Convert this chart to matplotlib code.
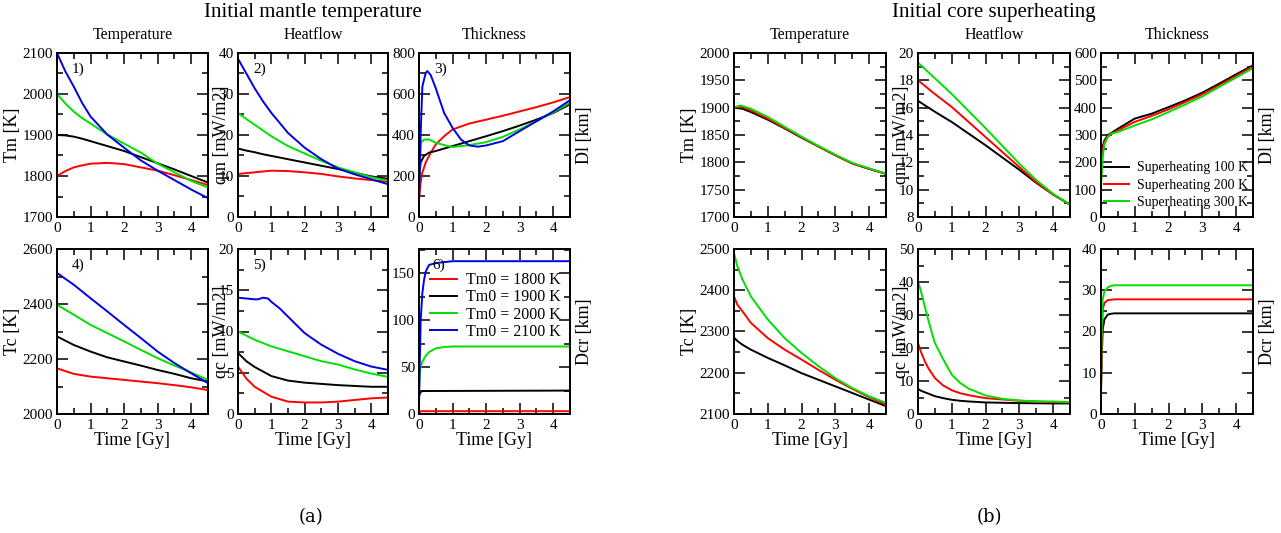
import matplotlib
matplotlib.use("Agg")
import matplotlib.pyplot as plt
from matplotlib.ticker import MultipleLocator

plt.rcParams['font.family'] = ['Liberation Serif', 'DejaVu Serif']

# ---------------- (a) Initial mantle temperature ----------------
a_labels = ["Tm0 = 1800 K", "Tm0 = 1900 K", "Tm0 = 2000 K", "Tm0 = 2100 K"]
a_colors = ["#ff0000", "#000000", "#00e000", "#0000e6"]

t_std = [0, 0.5, 1, 1.5, 2, 2.5, 3, 3.5, 4, 4.5]

# Panel 1: Tm [K]
a_tm_t = [0, 0.25, 0.5, 0.75, 1, 1.5, 2, 2.5, 3, 3.5, 4, 4.5]
a_tm = [
    [1800, 1812, 1821, 1826, 1830, 1832, 1829, 1821, 1813, 1802, 1790, 1778],
    [1900, 1899, 1896, 1891, 1885, 1873, 1861, 1846, 1831, 1816, 1800, 1784],
    [2000, 1977, 1957, 1941, 1928, 1901, 1879, 1857, 1830, 1809, 1788, 1772],
    [2100, 2055, 2018, 1978, 1945, 1901, 1869, 1838, 1813, 1790, 1767, 1746],
]
# Panel 2: qm [mW/m2]
a_qm_t = [0, 0.25, 0.5, 0.75, 1, 1.5, 2, 2.5, 3, 3.5, 4, 4.5]
a_qm = [
    [10.5, 10.7, 10.9, 11.1, 11.3, 11.2, 10.9, 10.5, 9.9, 9.4, 9.0, 8.6],
    [16.7, 16.2, 15.8, 15.3, 14.9, 14.1, 13.3, 12.5, 11.7, 10.8, 9.9, 9.3],
    [25.4, 23.9, 22.5, 21.1, 19.7, 17.3, 15.5, 13.7, 12.1, 10.9, 9.7, 8.9],
    [38.6, 35.0, 31.4, 28.2, 25.4, 20.5, 16.9, 14.1, 11.8, 10.4, 9.2, 8.0],
]
# Panel 3: Dl [km]
a_dl_t = [
    [0, 0.05, 0.1, 0.2, 0.35, 0.5, 0.75, 1, 1.5, 2, 2.5, 3, 3.5, 4, 4.5],
    [0, 0.05, 0.15, 0.3, 0.5, 0.75, 1, 1.5, 2, 2.5, 3, 3.5, 4, 4.5],
    [0, 0.05, 0.15, 0.3, 0.5, 0.75, 1, 1.25, 1.5, 2, 2.5, 3, 3.5, 4, 4.5],
    [0, 0.05, 0.1, 0.2, 0.25, 0.35, 0.5, 0.75, 1, 1.25, 1.5, 1.75, 2, 2.5, 3, 3.5, 4, 4.5],
]
a_dl = [
    [89, 169, 217, 266, 314, 354, 394, 427, 456, 475, 494, 515, 536, 559, 585],
    [185, 266, 298, 314, 322, 334, 346, 370, 394, 419, 446, 475, 507, 550],
    [150, 362, 378, 378, 362, 351, 341, 346, 351, 365, 391, 427, 467, 510, 558],
    [80, 410, 636, 703, 712, 692, 628, 507, 435, 378, 349, 343, 349, 370, 419, 467, 515, 570],
]
# Panel 4: Tc [K]
a_tc = [
    [2166, 2146, 2136, 2130, 2124, 2118, 2112, 2105, 2097, 2087],
    [2282, 2251, 2227, 2206, 2191, 2176, 2160, 2146, 2130, 2118],
    [2397, 2361, 2324, 2294, 2264, 2233, 2203, 2176, 2151, 2124],
    [2513, 2470, 2421, 2373, 2324, 2276, 2227, 2185, 2148, 2112],
]
# Panel 5: qc [mW/m2]
a_qc_t = [
    [0, 0.25, 0.5, 1, 1.5, 2, 2.5, 3, 3.5, 4, 4.5],
    [0, 0.25, 0.5, 1, 1.5, 2, 2.5, 3, 3.5, 4, 4.5],
    [0, 0.5, 1, 1.5, 2, 2.5, 3, 3.5, 4, 4.5],
    [0, 0.25, 0.5, 0.6, 0.75, 0.9, 1, 1.25, 1.5, 2, 2.5, 3, 3.5, 4, 4.5],
]
a_qc = [
    [5.75, 4.3, 3.3, 2.1, 1.5, 1.4, 1.4, 1.5, 1.7, 1.9, 2.0],
    [7.4, 6.4, 5.7, 4.6, 4.05, 3.8, 3.65, 3.5, 3.4, 3.3, 3.3],
    [10.0, 9.0, 8.2, 7.6, 7.0, 6.4, 6.0, 5.4, 4.9, 4.5],
    [14.1, 14.0, 13.9, 13.9, 14.1, 14.0, 13.6, 12.8, 11.8, 9.8, 8.4, 7.3, 6.4, 5.75, 5.35],
]
# Panel 6: Dcr [km]
a_dcr_t = [
    [0, 0.05, 4.5],
    [0, 0.03, 0.1, 4.5],
    [0, 0.02, 0.05, 0.1, 0.2, 0.3, 0.5, 0.75, 1, 4.5],
    [0, 0.02, 0.05, 0.1, 0.15, 0.2, 0.3, 0.5, 1, 4.5],
]
a_dcr = [
    [1, 3, 3],
    [18, 23, 24.5, 25],
    [29, 43, 50, 56, 62, 66, 70, 71.5, 72, 72],
    [7, 50, 100, 129, 143, 152, 159, 161, 163, 163],
]

# ---------------- (b) Initial core superheating ----------------
b_labels = ["Superheating 100 K", "Superheating 200 K", "Superheating 300 K"]
b_colors = ["#000000", "#ff0000", "#00e000"]

b_tm_t = [
    [0, 0.25, 0.5, 1, 1.5, 2, 2.5, 3, 3.5, 4, 4.5],
    [0, 0.25, 0.5, 1, 1.5, 2, 2.5, 3, 3.5, 4, 4.5],
    [0, 0.2, 0.5, 1, 1.5, 2, 2.5, 3, 3.5, 4, 4.5],
]
b_tm = [
    [1900, 1898, 1892, 1878, 1862, 1845, 1829, 1813, 1798, 1788, 1779],
    [1901, 1901, 1895, 1880, 1863, 1846, 1829, 1813, 1798, 1788, 1779],
    [1901, 1904, 1898, 1883, 1865, 1847, 1830, 1814, 1799, 1789, 1779],
]
b_qm = [
    [16.5, 15.7, 14.95, 14.1, 13.25, 12.35, 11.45, 10.5, 9.65, 8.9],
    [18.0, 17.0, 16.05, 14.95, 13.85, 12.75, 11.65, 10.55, 9.65, 8.9],
    [19.3, 18.15, 17.0, 15.75, 14.5, 13.2, 11.9, 10.7, 9.7, 8.9],
]
b_dl_t = [0, 0.05, 0.1, 0.2, 0.3, 0.5, 1, 1.5, 2, 2.5, 3, 3.5, 4, 4.5]
b_dl = [
    [159, 256, 280, 299, 307, 323, 360, 378, 402, 427, 455, 488, 522, 555],
    [130, 240, 275, 295, 303, 317, 348, 370, 394, 421, 449, 482, 516, 551],
    [110, 220, 265, 292, 305, 311, 335, 357, 384, 412, 441, 476, 510, 545],
]
b_tc_t = [0, 0.1, 0.25, 0.5, 1, 1.5, 2, 2.5, 3, 3.5, 4, 4.5]
b_tc = [
    [2285, 2277, 2268, 2256, 2236, 2218, 2199, 2183, 2167, 2151, 2135, 2119],
    [2385, 2365, 2349, 2321, 2284, 2256, 2232, 2207, 2183, 2161, 2141, 2123],
    [2490, 2458, 2426, 2385, 2329, 2284, 2248, 2216, 2187, 2163, 2143, 2127],
]
b_qc_t = [0, 0.1, 0.2, 0.3, 0.5, 0.75, 1, 1.25, 1.5, 2, 2.5, 3, 3.5, 4, 4.5]
b_qc = [
    [7.6, 7.0, 6.6, 6.2, 5.4, 4.8, 4.3, 4.0, 3.8, 3.5, 3.4, 3.3, 3.25, 3.2, 3.2],
    [21.5, 18.5, 16.0, 14.0, 10.9, 8.6, 7.2, 6.3, 5.7, 4.8, 4.4, 4.0, 3.8, 3.6, 3.5],
    [40.2, 36.7, 32.6, 28.6, 21.5, 16.5, 11.9, 9.4, 7.7, 5.6, 4.6, 4.1, 3.8, 3.8, 3.6],
]
b_dcr_t = [0, 0.02, 0.05, 0.1, 0.2, 0.3, 0.4, 4.5]
b_dcr = [
    [5.9, 13.2, 20.4, 22.9, 24.1, 24.3, 24.4, 24.4],
    [5.0, 16.4, 25.3, 26.9, 27.6, 27.7, 27.8, 27.8],
    [6.0, 20.0, 27.7, 29.7, 30.7, 31.1, 31.2, 31.2],
]

W, H = 1281, 533
fig = plt.figure(figsize=(W / 100, H / 100), dpi=100)


def make_ax(x0, x1, y0, y1):
    ax = fig.add_axes([x0 / W, 1 - y1 / H, (x1 - x0) / W, (y1 - y0) / H])
    ax.set_xlim(0, 4.5)
    ax.xaxis.set_major_locator(MultipleLocator(1))
    ax.xaxis.set_minor_locator(MultipleLocator(0.5))
    ax.tick_params(which='both', direction='in', top=True, right=True,
                   labelsize=11, width=1.1)
    ax.tick_params(which='major', length=8)
    ax.tick_params(which='minor', length=4.3)
    ax.tick_params(axis='x', pad=3.5)
    ax.tick_params(axis='y', pad=3)
    for s in ax.spines.values():
        s.set_linewidth(1.4)
    return ax


def plot_set(ax, ts, ys, colors, labels=None):
    lines = []
    for i, (t, y, c) in enumerate(zip(ts, ys, colors)):
        ln, = ax.plot(t, y, color=c, lw=1.4,
                      label=labels[i] if labels else None)
        lines.append(ln)
    return lines


cols_a = [(57, 208), (238, 388), (419, 570)]
cols_b = [(734, 886), (918, 1070), (1101, 1253)]
row_top = (53, 217)
row_bot = (249, 414)
TITLE_PAD = 10

# ---- (a) ----
ax = make_ax(*cols_a[0], *row_top)
plot_set(ax, [a_tm_t] * 4, a_tm, a_colors)
ax.set_ylim(1700, 2100)
ax.yaxis.set_major_locator(MultipleLocator(100))
ax.yaxis.set_minor_locator(MultipleLocator(50))
ax.set_ylabel("Tm [K]", fontsize=13, labelpad=1)
ax.set_title("Temperature", fontsize=11.5, pad=TITLE_PAD)
ax.text(0.1, 0.9, "1)", transform=ax.transAxes, fontsize=11, va='center')

ax = make_ax(*cols_a[1], *row_top)
plot_set(ax, [a_qm_t] * 4, a_qm, a_colors)
ax.set_ylim(0, 40)
ax.yaxis.set_major_locator(MultipleLocator(10))
ax.yaxis.set_minor_locator(MultipleLocator(5))
ax.set_ylabel("qm [mW/m2]", fontsize=13, labelpad=-8)
ax.set_title("Heatflow", fontsize=11.5, pad=TITLE_PAD)
ax.text(0.1, 0.9, "2)", transform=ax.transAxes, fontsize=11, va='center')

ax = make_ax(*cols_a[2], *row_top)
plot_set(ax, a_dl_t, a_dl, a_colors)
ax.set_ylim(0, 800)
ax.yaxis.set_major_locator(MultipleLocator(200))
ax.yaxis.set_minor_locator(MultipleLocator(100))
ax.yaxis.set_label_position('right')
ax.set_ylabel("Dl [km]", fontsize=13, labelpad=4)
ax.set_title("Thickness", fontsize=11.5, pad=TITLE_PAD)
ax.text(0.1, 0.9, "3)", transform=ax.transAxes, fontsize=11, va='center')

ax = make_ax(*cols_a[0], *row_bot)
plot_set(ax, [t_std] * 4, a_tc, a_colors)
ax.set_ylim(2000, 2600)
ax.yaxis.set_major_locator(MultipleLocator(200))
ax.yaxis.set_minor_locator(MultipleLocator(100))
ax.set_ylabel("Tc [K]", fontsize=13, labelpad=1)
ax.set_xlabel("Time [Gy]", fontsize=13, labelpad=0)
ax.text(0.1, 0.9, "4)", transform=ax.transAxes, fontsize=11, va='center')

ax = make_ax(*cols_a[1], *row_bot)
plot_set(ax, a_qc_t, a_qc, a_colors)
ax.set_ylim(0, 20)
ax.yaxis.set_major_locator(MultipleLocator(5))
ax.yaxis.set_minor_locator(MultipleLocator(2.5))
ax.set_ylabel("qc [mW/m2]", fontsize=13, labelpad=-8)
ax.set_xlabel("Time [Gy]", fontsize=13, labelpad=0)
ax.text(0.1, 0.9, "5)", transform=ax.transAxes, fontsize=11, va='center')

ax = make_ax(*cols_a[2], *row_bot)
plot_set(ax, a_dcr_t, a_dcr, a_colors, a_labels)
ax.set_ylim(0, 176)
ax.yaxis.set_major_locator(MultipleLocator(50))
ax.yaxis.set_minor_locator(MultipleLocator(25))
ax.yaxis.set_label_position('right')
ax.set_ylabel("Dcr [km]", fontsize=13, labelpad=4)
ax.set_xlabel("Time [Gy]", fontsize=13, labelpad=0)
ax.text(0.09, 0.9, "6)", transform=ax.transAxes, fontsize=11, va='center')
ax.legend(loc='upper left', bbox_to_anchor=(0.07, 0.86), frameon=False,
          fontsize=11.5, handlelength=1.7, handletextpad=0.6,
          labelspacing=0.08, borderaxespad=0, borderpad=0)

# ---- (b) ----
ax = make_ax(*cols_b[0], *row_top)
plot_set(ax, b_tm_t, b_tm, b_colors)
ax.set_ylim(1700, 2000)
ax.yaxis.set_major_locator(MultipleLocator(50))
ax.yaxis.set_minor_locator(MultipleLocator(25))
ax.set_ylabel("Tm [K]", fontsize=13, labelpad=1)
ax.set_title("Temperature", fontsize=11.5, pad=TITLE_PAD)

ax = make_ax(*cols_b[1], *row_top)
plot_set(ax, [t_std] * 3, b_qm, b_colors)
ax.set_ylim(8, 20)
ax.yaxis.set_major_locator(MultipleLocator(2))
ax.yaxis.set_minor_locator(MultipleLocator(1))
ax.set_ylabel("qm [mW/m2]", fontsize=13, labelpad=-8)
ax.set_title("Heatflow", fontsize=11.5, pad=TITLE_PAD)

ax = make_ax(*cols_b[2], *row_top)
plot_set(ax, [b_dl_t] * 3, b_dl, b_colors, b_labels)
ax.set_ylim(0, 600)
ax.yaxis.set_major_locator(MultipleLocator(100))
ax.yaxis.set_minor_locator(MultipleLocator(50))
ax.yaxis.set_label_position('right')
ax.set_ylabel("Dl [km]", fontsize=13, labelpad=4)
ax.set_title("Thickness", fontsize=11.5, pad=TITLE_PAD)
ax.legend(loc='lower left', bbox_to_anchor=(0.02, 0.05), frameon=False,
          fontsize=10, handlelength=1.8, handletextpad=0.6,
          labelspacing=0.3, borderaxespad=0, borderpad=0)

ax = make_ax(*cols_b[0], *row_bot)
plot_set(ax, [b_tc_t] * 3, b_tc, b_colors)
ax.set_ylim(2100, 2500)
ax.yaxis.set_major_locator(MultipleLocator(100))
ax.yaxis.set_minor_locator(MultipleLocator(50))
ax.set_ylabel("Tc [K]", fontsize=13, labelpad=1)
ax.set_xlabel("Time [Gy]", fontsize=13, labelpad=0)

ax = make_ax(*cols_b[1], *row_bot)
plot_set(ax, [b_qc_t] * 3, b_qc, b_colors)
ax.set_ylim(0, 50)
ax.yaxis.set_major_locator(MultipleLocator(10))
ax.yaxis.set_minor_locator(MultipleLocator(5))
ax.set_ylabel("qc [mW/m2]", fontsize=13, labelpad=-8)
ax.set_xlabel("Time [Gy]", fontsize=13, labelpad=0)

ax = make_ax(*cols_b[2], *row_bot)
plot_set(ax, [b_dcr_t] * 3, b_dcr, b_colors)
ax.set_ylim(0, 40)
ax.yaxis.set_major_locator(MultipleLocator(10))
ax.yaxis.set_minor_locator(MultipleLocator(5))
ax.yaxis.set_label_position('right')
ax.set_ylabel("Dcr [km]", fontsize=13, labelpad=4)
ax.set_xlabel("Time [Gy]", fontsize=13, labelpad=0)

fig.text(313 / W, 1 - 12 / H, "Initial mantle temperature", fontsize=15,
         ha='center', va='center')
fig.text(994 / W, 1 - 12 / H, "Initial core superheating", fontsize=15,
         ha='center', va='center')
fig.text(311 / W, 1 - 517 / H, "(a)", fontsize=13, ha='center', va='center',
         family=['DejaVu Serif'])
fig.text(989 / W, 1 - 517 / H, "(b)", fontsize=13, ha='center', va='center',
         family=['DejaVu Serif'])

fig.savefig("out.png", dpi=100)
